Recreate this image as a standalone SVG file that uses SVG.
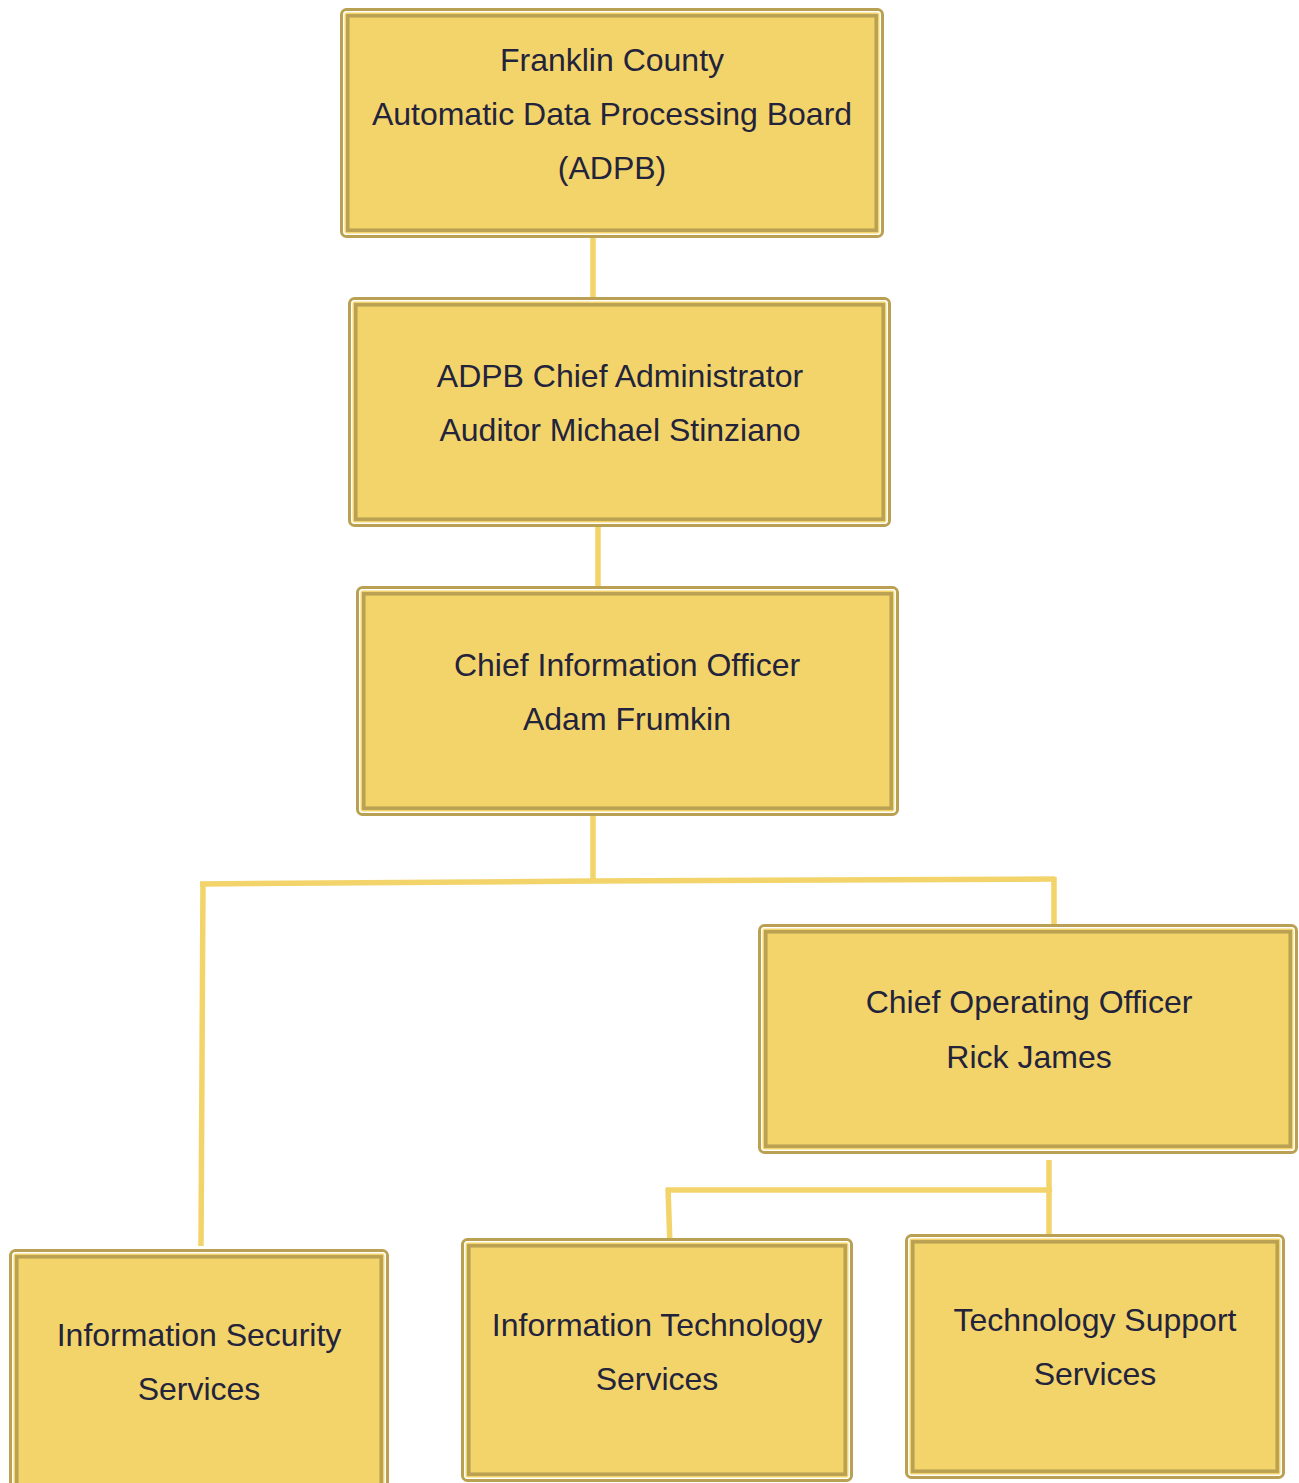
<svg xmlns="http://www.w3.org/2000/svg" width="1299" height="1483" viewBox="0 0 1299 1483">
  <style>
    .outer { fill: #F2D46B; stroke: #B9A052; stroke-width: 3; }
    .gap { fill: none; stroke: #FFFFFF; stroke-width: 1.5; }
    .inner { fill: none; stroke: #B9A052; stroke-width: 3.5; }
    .label { font-family: "Liberation Sans", Arial, sans-serif; font-size: 32px; fill: #23233B; text-anchor: middle; }
    .wire { fill: none; stroke: #F2D46A; stroke-width: 5.5; stroke-linecap: butt; }
  </style>
  <rect width="1299" height="1483" fill="#FFFFFF"/>

  <!-- reporting lines -->
  <g id="connectors">
    <line class="wire" x1="593" y1="236" x2="593" y2="300"/>
    <line class="wire" x1="598" y1="525" x2="598" y2="589"/>
    <line class="wire" x1="593" y1="816" x2="593" y2="882"/>
    <polyline class="wire" points="200,884 593,881 1055,879"/>
    <line class="wire" x1="203" y1="882" x2="201" y2="1246"/>
    <line class="wire" x1="1054" y1="877" x2="1054" y2="933"/>
    <line class="wire" x1="1049" y1="1160" x2="1049" y2="1240"/>
    <line class="wire" x1="666" y1="1190" x2="1052" y2="1190"/>
    <line class="wire" x1="668" y1="1188" x2="670" y2="1246"/>
  </g>

  <g id="adpb">
    <rect class="outer" x="341.5" y="9.5" width="541" height="227" rx="5"/>
    <rect class="gap" x="343.8" y="11.8" width="536.4" height="222.4" rx="3"/>
    <rect class="inner" x="347.8" y="15.8" width="528.4" height="214.4"/>
    <text class="label" x="612" y="71">Franklin County</text>
    <text class="label" x="612" y="125">Automatic Data Processing Board</text>
    <text class="label" x="612" y="179">(ADPB)</text>
  </g>

  <g id="chief-administrator">
    <rect class="outer" x="349.5" y="298.5" width="540" height="227" rx="5"/>
    <rect class="gap" x="351.8" y="300.8" width="535.4" height="222.4" rx="3"/>
    <rect class="inner" x="355.8" y="304.8" width="527.4" height="214.4"/>
    <text class="label" x="620" y="387">ADPB Chief Administrator</text>
    <text class="label" x="620" y="441">Auditor Michael Stinziano</text>
  </g>

  <g id="cio">
    <rect class="outer" x="357.5" y="587.5" width="540" height="227" rx="5"/>
    <rect class="gap" x="359.8" y="589.8" width="535.4" height="222.4" rx="3"/>
    <rect class="inner" x="363.8" y="593.8" width="527.4" height="214.4"/>
    <text class="label" x="627" y="676">Chief Information Officer</text>
    <text class="label" x="627" y="730">Adam Frumkin</text>
  </g>

  <g id="coo">
    <rect class="outer" x="759.5" y="925.5" width="537" height="227" rx="5"/>
    <rect class="gap" x="761.8" y="927.8" width="532.4" height="222.4" rx="3"/>
    <rect class="inner" x="765.8" y="931.8" width="524.4" height="214.4"/>
    <text class="label" x="1029" y="1013">Chief Operating Officer</text>
    <text class="label" x="1029" y="1068">Rick James</text>
  </g>

  <g id="info-security">
    <rect class="outer" x="10.5" y="1250.5" width="377" height="260" rx="5"/>
    <rect class="gap" x="12.8" y="1252.8" width="372.4" height="255.4" rx="3"/>
    <rect class="inner" x="16.8" y="1256.8" width="364.4" height="247.4"/>
    <text class="label" x="199" y="1346">Information Security</text>
    <text class="label" x="199" y="1400">Services</text>
  </g>

  <g id="it-services">
    <rect class="outer" x="462.5" y="1239.5" width="389" height="241" rx="5"/>
    <rect class="gap" x="464.8" y="1241.8" width="384.4" height="236.4" rx="3"/>
    <rect class="inner" x="468.8" y="1245.8" width="376.4" height="228.4"/>
    <text class="label" x="657" y="1336">Information Technology</text>
    <text class="label" x="657" y="1390">Services</text>
  </g>

  <g id="tech-support">
    <rect class="outer" x="906.5" y="1235.5" width="377" height="242" rx="5"/>
    <rect class="gap" x="908.8" y="1237.8" width="372.4" height="237.4" rx="3"/>
    <rect class="inner" x="912.8" y="1241.8" width="364.4" height="229.4"/>
    <text class="label" x="1095" y="1331">Technology Support</text>
    <text class="label" x="1095" y="1385">Services</text>
  </g>
</svg>
